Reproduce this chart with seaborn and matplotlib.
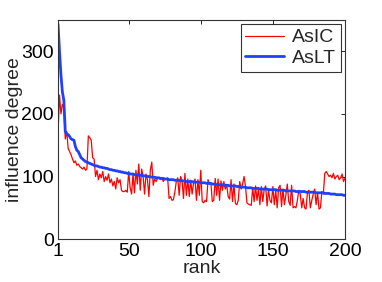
import numpy as np
import pandas as pd
import matplotlib
matplotlib.use("Agg")
import matplotlib.pyplot as plt
import seaborn as sns

# ---------------------------------------------------------------------------
# Data
# ---------------------------------------------------------------------------
asic = [
    170, 230, 200, 215, 210, 160, 172, 145, 140, 135,
    128, 122, 125, 118, 120, 116, 114, 112, 115, 110,
    112, 165, 162, 158, 130, 128, 100, 110, 95, 104,
    98, 108, 92, 100, 94, 104, 90, 96, 85, 92,
    80, 98, 90, 95, 78, 76, 76, 78, 75, 108,
    82, 72, 105, 74, 110, 88, 120, 78, 112, 100,
    72, 104, 95, 68, 110, 123, 86, 96, 92, 97,
    98, 95, 98, 92, 97, 96, 98, 65, 68, 62,
    63, 75, 92, 98, 70, 100, 94, 65, 105, 70,
    96, 68, 94, 72, 90, 96, 62, 95, 70, 110,
    60, 58, 62, 60, 95, 88, 90, 60, 62, 97,
    70, 96, 62, 93, 78, 92, 80, 86, 68, 64,
    95, 60, 88, 57, 55, 62, 92, 80, 88, 100,
    85, 58, 56, 55, 54, 82, 60, 85, 62, 80,
    55, 84, 60, 80, 85, 53, 78, 62, 58, 84,
    55, 78, 50, 82, 86, 52, 80, 55, 70, 88,
    60, 54, 86, 50, 52, 50, 62, 78, 72, 50,
    65, 50, 48, 75, 78, 50, 62, 72, 80, 55,
    75, 48, 50, 76, 72, 105, 108, 104, 100, 102,
    98, 105, 96, 100, 102, 95, 98, 104, 92, 97,
]
aslt = [
    343, 300, 262, 235, 222, 172, 168, 167, 164, 160,
    159, 158, 148, 142, 140, 135, 130, 128, 126, 124,
    123, 122, 121, 120, 119, 118, 117, 117, 116, 115,
    115, 114, 114, 113, 113, 112, 111, 111, 110, 110,
    109, 109, 108, 108, 107, 107, 106, 106, 105, 105,
    104, 104, 104, 103, 103, 103, 102, 102, 102, 101,
    101, 101, 100, 100, 100, 99, 99, 99, 98, 98,
    98, 97, 97, 97, 96, 96, 96, 95, 95, 95,
    95, 94, 94, 94, 94, 93, 93, 93, 93, 92,
    92, 92, 92, 92, 91, 91, 91, 91, 91, 90,
    90, 90, 90, 89, 89, 89, 89, 88, 88, 88,
    87, 87, 87, 87, 87, 86, 86, 86, 86, 85,
    85, 85, 85, 85, 84, 84, 84, 83, 83, 83,
    83, 82, 82, 82, 82, 81, 81, 81, 81, 81,
    80, 80, 80, 80, 80, 80, 79, 79, 79, 79,
    79, 79, 78, 78, 78, 78, 78, 78, 77, 77,
    77, 77, 77, 77, 77, 76, 76, 76, 76, 76,
    76, 76, 75, 75, 75, 75, 75, 75, 75, 74,
    74, 74, 74, 74, 74, 73, 73, 73, 73, 72,
    72, 72, 72, 71, 71, 71, 71, 71, 70, 70,
]
rank = list(range(1, len(asic) + 1))
x_ticks = [1, 50, 100, 150, 200]
y_ticks = [0, 100, 200, 300]

df = pd.DataFrame({"rank": rank, "AsIC": asic, "AsLT": aslt})

# ---------------------------------------------------------------------------
# Plot
# ---------------------------------------------------------------------------
sns.set_style("white")
plt.rcParams["font.family"] = ["Liberation Sans", "DejaVu Sans"]
plt.rcParams["font.size"] = 14

fig = plt.figure(figsize=(3.82, 2.82), dpi=100)
ax = fig.add_axes([0.152, 0.152, 0.751, 0.777])

sns.lineplot(data=df, x="rank", y="AsIC", ax=ax, color="#ff0000",
             linewidth=0.9, label="AsIC")
sns.lineplot(data=df, x="rank", y="AsLT", ax=ax, color="#2040ff",
             linewidth=2.0, label="AsLT")

ax.set_xlim(1, 200)
ax.set_ylim(0, 350)
ax.set_xticks(x_ticks)
ax.set_yticks(y_ticks)
ax.set_xlabel("rank", fontsize=14, labelpad=0)
ax.set_ylabel("influence degree", fontsize=14, labelpad=-1)
ax.tick_params(direction="in", length=3, width=0.6, top=True, right=True,
               labelsize=14, colors="black")
ax.tick_params(axis="x", pad=3)
ax.tick_params(axis="y", pad=3)
for s in ax.spines.values():
    s.set_color("#333333")
    s.set_linewidth(0.8)

leg = ax.legend(loc="upper right", fontsize=14, frameon=True, fancybox=False,
                borderpad=0.25, handlelength=2.0, handletextpad=0.4,
                labelspacing=0.15, borderaxespad=0.2)
leg.get_frame().set_edgecolor("black")
leg.get_frame().set_linewidth(0.8)

fig.savefig("out.png", dpi=100)
